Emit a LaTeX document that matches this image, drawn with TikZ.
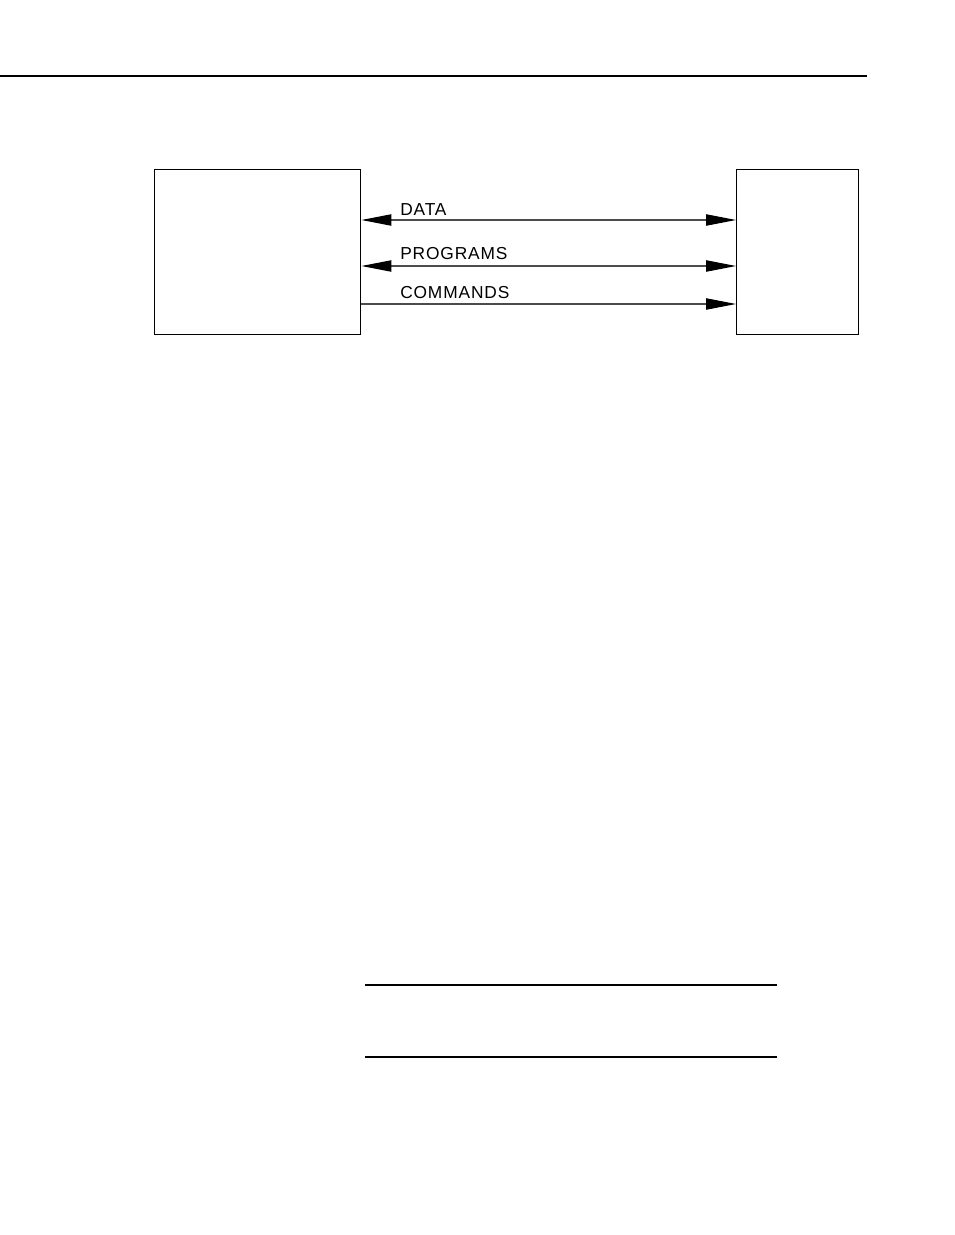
\documentclass[tikz,border=0pt]{standalone}
\usepackage{fontspec}
\setmainfont{Liberation Sans}
\usepackage{tikz}
\usetikzlibrary{arrows.meta, positioning}

\begin{document}
\begin{tikzpicture}[
    x=0.75pt, y=-0.75pt,
    unit/.style={rectangle, draw=black, line width=1.1pt, inner sep=0pt, anchor=north west},
    lbl/.style={anchor=base west, inner sep=0pt, font=\fontsize{13}{15}\selectfont\addfontfeatures{LetterSpace=5}},
    flow/.style={line width=0.8pt, draw=black!70, {Triangle[length=22.5pt, width=8.5pt, color=black]}-{Triangle[length=22.5pt, width=8.5pt, color=black]}},
    oneway/.style={line width=0.8pt, draw=black!70, -{Triangle[length=22.5pt, width=8.5pt, color=black]}},
    rule/.style={line width=1.1pt}
]
    \useasboundingbox (0,0) rectangle (954,1235);

    % Page rule
    \coordinate (ruleL) at (0,76);
    \coordinate (ruleR) at (867,76);
    \draw[rule] (ruleL) -- (ruleR);

    % Computer
    \node[unit, minimum width=154.5pt, minimum height=123.75pt] (pc) at (154,169) {};

    % Datalogger
    \node[unit, minimum width=91.5pt, minimum height=123.75pt] (logger) at (736,169) {};

    % Labels
    \node[lbl] (data) at (400,215) {DATA};
    \node[lbl] (prog) at (400,259) {PROGRAMS};
    \node[lbl] (cmd) at (400,298) {COMMANDS};

    % Arrows
    \draw[flow] (pc.east |- 0,220) -- (logger.west |- 0,220);
    \draw[flow] (pc.east |- 0,266) -- (logger.west |- 0,266);
    \draw[oneway] (pc.east |- 0,304) -- (logger.west |- 0,304);

    % Bottom rules
    \coordinate (topL) at (365,985);
    \coordinate (topR) at (777,985);
    \coordinate (botL) at (365,1057);
    \coordinate (botR) at (777,1057);
    \draw[rule] (topL) -- (topR);
    \draw[rule] (botL) -- (botR);
\end{tikzpicture}
\end{document}
